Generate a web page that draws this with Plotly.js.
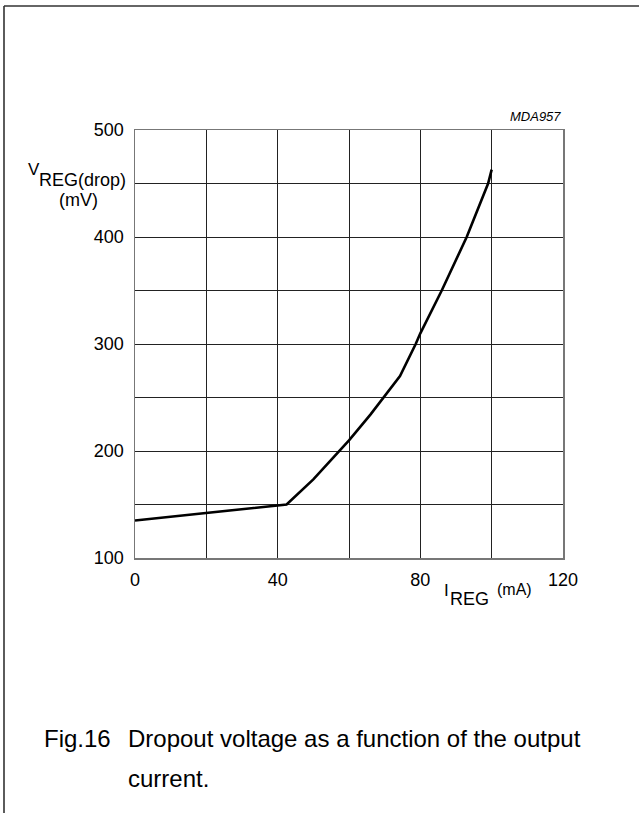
<!DOCTYPE html>
<html>
<head>
<meta charset="utf-8">
<script src="https://cdn.plot.ly/plotly-3.0.1.min.js"></script>
<style>
html,body{margin:0;padding:0;background:#fff;}
#chart{width:639px;height:813px;}
</style>
</head>
<body>
<div id="chart"></div>
<script>
// Data
const currentMA = [0, 20, 42.5, 50, 57, 60, 66, 74.3, 78.7, 80, 86, 90.6, 93, 99, 100];
const dropMV    = [135, 142, 150, 173.5, 199, 210, 234, 270, 300, 310, 350, 382, 400, 450, 463];

const xTickVals = [0, 20, 40, 60, 80, 100, 120];
const xTickText = ['0', '', '40', '', '80', '', '120'];
const yTickVals = [100, 150, 200, 250, 300, 350, 400, 450, 500];
const yTickText = ['100', '', '200', '', '300', '', '400', '', '500'];

const figLabel = 'Fig.16';
const captionLine1 = 'Dropout voltage as a function of the output';
const captionLine2 = 'current.';
const codeLabel = 'MDA957';

// page geometry (pixels)
const W = 639, H = 813;
const L = 135, R = 76, T = 130, B = 255;
const PW = W - L - R, PH = H - T - B;
const px = x => (x - L) / PW;
const py = y => (H - B - y) / PH;

const FONT = 'Liberation Sans, Arial, Helvetica, sans-serif';

const trace = {
  x: currentMA, y: dropMV, type: 'scatter', mode: 'lines',
  line: {color: '#000', width: 2.6}, hoverinfo: 'skip', showlegend: false
};

function ann(text, x, y, xa, ya, size, extra) {
  return Object.assign({
    text: text, xref: 'paper', yref: 'paper', x: px(x), y: py(y),
    xanchor: xa, yanchor: ya, showarrow: false,
    font: {family: FONT, size: size, color: '#000'}
  }, extra || {});
}

const layout = {
  width: W, height: H,
  margin: {l: L, r: R, t: T, b: B, pad: 0},
  paper_bgcolor: '#fff', plot_bgcolor: '#fff',
  showlegend: false,
  font: {family: FONT, size: 18, color: '#000'},
  xaxis: {
    range: [0, 120], tickmode: 'array', tickvals: xTickVals, ticktext: xTickText,
    showgrid: true, gridcolor: '#222', gridwidth: 1,
    showline: true, mirror: true, linecolor: '#777', linewidth: 1.5,
    zeroline: false, ticks: '', ticklabelstandoff: 5,
    tickfont: {family: FONT, size: 18, color: '#000'}, fixedrange: true
  },
  yaxis: {
    range: [100, 500], tickmode: 'array', tickvals: yTickVals, ticktext: yTickText,
    showgrid: true, gridcolor: '#222', gridwidth: 1,
    showline: true, mirror: true, linecolor: '#777', linewidth: 1.5,
    zeroline: false, ticks: '', ticklabelstandoff: 6,
    tickfont: {family: FONT, size: 18, color: '#000'}, fixedrange: true
  },
  shapes: [
    {type: 'line', xref: 'paper', yref: 'paper', x0: px(4), x1: px(4), y0: py(6), y1: py(813),
     line: {color: '#333', width: 1.6}},
    {type: 'line', xref: 'paper', yref: 'paper', x0: px(4), x1: px(639), y0: py(6), y1: py(6),
     line: {color: '#333', width: 1.6}}
  ],
  annotations: [
    ann(codeLabel, 563, 116, 'right', 'middle', 13, {font: {family: FONT, size: 13, color: '#000', style: 'italic'}}),
    ann('V', 34, 169, 'center', 'middle', 17),
    ann('REG(drop)', 128, 180, 'right', 'middle', 18),
    ann('(mV)', 78, 200, 'center', 'middle', 18),
    ann('I', 446, 590, 'center', 'middle', 17),
    ann('REG', 448, 599, 'left', 'middle', 18),
    ann('(mA)', 495, 589, 'left', 'middle', 16),
    ann(figLabel, 42, 738, 'left', 'middle', 24),
    ann(captionLine1, 126, 738, 'left', 'middle', 24),
    ann(captionLine2, 126, 779, 'left', 'middle', 24)
  ]
};

Plotly.newPlot('chart', [trace], layout, {staticPlot: true, displayModeBar: false});
</script>
</body>
</html>
